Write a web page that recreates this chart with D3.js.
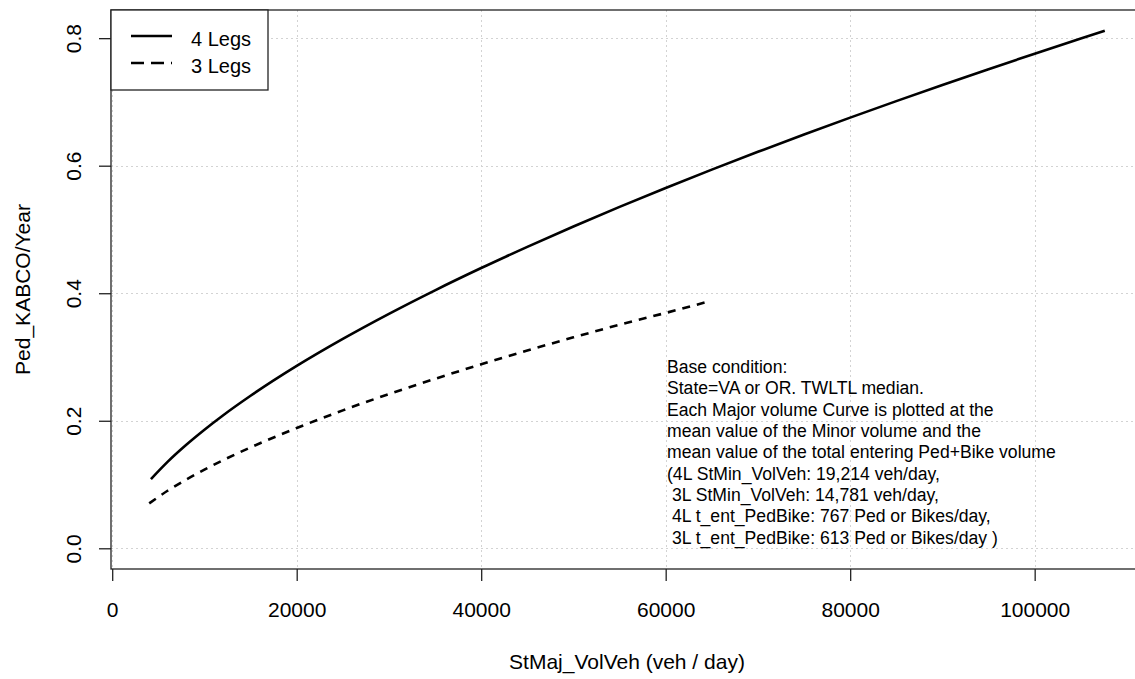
<!DOCTYPE html>
<html>
<head>
<meta charset="utf-8">
<script src="https://cdn.jsdelivr.net/npm/d3@7"></script>
<style>
  html, body { margin: 0; padding: 0; background: #fff; }
  svg text { font-family: "Liberation Sans", Arial, sans-serif; fill: #000; }
</style>
</head>
<body>
<svg id="chart" width="1135" height="679"></svg>
<script>
// Major-street volume (veh/day) and predicted Ped KABCO crashes per year
const legs4Vol = [4200, 6000, 8000, 10000, 12000, 15000, 20000, 25000, 30000, 35000, 40000, 45000, 50000,
                  55000, 60000, 65000, 70000, 75000, 80000, 85000, 90000, 95000, 100000,
                  105000, 107600];
const legs4Crash = [0.1086, 0.1356, 0.1620, 0.1860, 0.2083, 0.2392, 0.2860, 0.3284, 0.3677, 0.4046, 0.4395, 0.4727, 0.5047,
                    0.5354, 0.5651, 0.5938, 0.6218, 0.6489, 0.6754, 0.7013, 0.7266, 0.7513, 0.7756,
                    0.7994, 0.8117];
const legs3Vol = [4013, 6000, 8000, 10000, 12000, 15000, 20000, 25000, 30000, 35000, 40000, 45000, 50000,
                  55000, 60000, 64900];
const legs3Crash = [0.0705, 0.0902, 0.1076, 0.1234, 0.1380, 0.1582, 0.1886, 0.2163, 0.2419, 0.2658, 0.2885, 0.3101, 0.3308,
                    0.3507, 0.3691, 0.3880];

const xTicks = [0, 20000, 40000, 60000, 80000, 100000];
const yTicks = [0.0, 0.2, 0.4, 0.6, 0.8];
const legendLabels = ["4 Legs", "3 Legs"];
const noteLines = [
  "Base condition:",
  "State=VA or OR. TWLTL median.",
  "Each Major volume Curve is plotted at the",
  "mean value of the Minor volume and the",
  "mean value of the total entering Ped+Bike volume",
  "(4L StMin_VolVeh: 19,214 veh/day,",
  " 3L StMin_VolVeh: 14,781 veh/day,",
  " 4L t_ent_PedBike: 767 Ped or Bikes/day,",
  " 3L t_ent_PedBike: 613 Ped or Bikes/day )"
];

const svg = d3.select("#chart");
const plot = { left: 111, right: 1143, top: 10, bottom: 569 };

// axis limits padded 4% on each side of the data range
const xExt = d3.extent(legs4Vol.concat(legs3Vol));
const xPad = (xExt[1] - xExt[0]) * 0.04;
const yLim = [0, d3.max(legs4Crash.concat(legs3Crash))];
const yPad = (yLim[1] - yLim[0]) * 0.04;

const x = d3.scaleLinear().domain([xExt[0] - xPad, xExt[1] + xPad]).range([plot.left, plot.right]);
const y = d3.scaleLinear().domain([yLim[0] - yPad, yLim[1] + yPad]).range([plot.bottom, plot.top]);

// dotted grid
const grid = svg.append("g").attr("stroke", "#d3d3d3").attr("stroke-width", 1).attr("stroke-dasharray", "2,3");
grid.selectAll("line.gx").data(xTicks).join("line")
  .attr("x1", d => Math.round(x(d)) + 0.5).attr("x2", d => Math.round(x(d)) + 0.5)
  .attr("y1", plot.top).attr("y2", plot.bottom);
grid.selectAll("line.gy").data(yTicks).join("line")
  .attr("x1", plot.left).attr("x2", plot.right)
  .attr("y1", d => Math.round(y(d)) + 0.5).attr("y2", d => Math.round(y(d)) + 0.5);

// curves
const line = d3.line().x(d => x(d[0])).y(d => y(d[1])).curve(d3.curveMonotoneX);
svg.append("path")
  .datum(d3.zip(legs4Vol, legs4Crash))
  .attr("d", line).attr("fill", "none").attr("stroke", "#000").attr("stroke-width", 2.6);
svg.append("path")
  .datum(d3.zip(legs3Vol, legs3Crash))
  .attr("d", line).attr("fill", "none").attr("stroke", "#000").attr("stroke-width", 2.6)
  .attr("stroke-dasharray", "8,7");

// axes
const xAxis = svg.append("g").attr("transform", `translate(0,${plot.bottom})`)
  .call(d3.axisBottom(x).tickValues(xTicks).tickSize(12).tickPadding(21).tickFormat(d3.format("d")));
xAxis.select(".domain").remove();
xAxis.selectAll("text").attr("font-size", 21).attr("fill", "#000").style("font-family", "Liberation Sans, Arial, sans-serif");
xAxis.selectAll("line").attr("stroke", "#222").attr("stroke-width", 1.3);

const yAxis = svg.append("g").attr("transform", `translate(${plot.left},0)`)
  .call(d3.axisLeft(y).tickValues(yTicks).tickSize(12).tickFormat(d3.format(".1f")));
yAxis.select(".domain").remove();
yAxis.selectAll("line").attr("stroke", "#222").attr("stroke-width", 1.3);
yAxis.selectAll("text")
  .attr("font-size", 21).attr("fill", "#000")
  .attr("text-anchor", "middle").attr("dy", null).attr("x", null)
  .attr("transform", "translate(-30,0) rotate(-90)")
  .style("font-family", "Liberation Sans, Arial, sans-serif");

// plot frame
svg.append("rect")
  .attr("x", plot.left).attr("y", plot.top)
  .attr("width", plot.right - plot.left).attr("height", plot.bottom - plot.top)
  .attr("fill", "none").attr("stroke", "#222").attr("stroke-width", 1.3);

// axis titles
svg.append("text")
  .attr("x", (plot.left + plot.right) / 2).attr("y", 669)
  .attr("text-anchor", "middle").attr("font-size", 21)
  .text("StMaj_VolVeh (veh / day)");
svg.append("text")
  .attr("transform", `translate(30,${(plot.top + plot.bottom) / 2}) rotate(-90)`)
  .attr("text-anchor", "middle").attr("font-size", 21)
  .text("Ped_KABCO/Year");

// legend
const legend = svg.append("g");
legend.append("rect")
  .attr("x", plot.left).attr("y", plot.top).attr("width", 157).attr("height", 80)
  .attr("fill", "#fff").attr("stroke", "#222").attr("stroke-width", 1.3);
const legendDash = [null, "13,7"];
legendLabels.forEach((lab, i) => {
  const ly = 36 + i * 27;
  legend.append("line")
    .attr("x1", 131).attr("x2", 172).attr("y1", ly).attr("y2", ly)
    .attr("stroke", "#000").attr("stroke-width", 2.6)
    .attr("stroke-dasharray", legendDash[i]);
  legend.append("text")
    .attr("x", 191).attr("y", ly + 10).attr("font-size", 20)
    .text(lab);
});

// annotation block
const note = svg.append("text")
  .attr("x", 667).attr("y", 373).attr("font-size", 17.6)
  .attr("xml:space", "preserve").style("white-space", "pre");
noteLines.forEach((t, i) => {
  note.append("tspan").attr("x", 667).attr("y", 373 + i * 21.33).text(t);
});
</script>
</body>
</html>
